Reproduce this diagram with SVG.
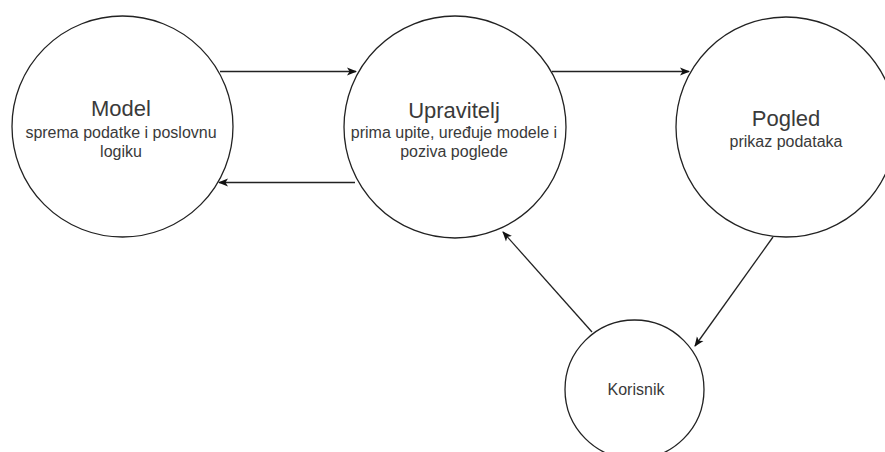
<svg xmlns="http://www.w3.org/2000/svg" width="885" height="452" viewBox="0 0 885 452">
<style>
.node{fill:#fff;stroke:#222;stroke-width:1.3}
.edge{fill:none;stroke:#222;stroke-width:1.3}
.t{font-family:"Liberation Sans",Arial,sans-serif;fill:#3a3a3a;text-anchor:middle}
.h{font-size:22px}
.s{font-size:16px}
</style>
<defs>
<marker id="arr" viewBox="0 0 10 10" refX="9" refY="5" markerWidth="10" markerHeight="10" markerUnits="userSpaceOnUse" orient="auto">
<path d="M0,1 L10,5 L0,9 L2.5,5 Z" fill="#111"/>
</marker>
</defs>
<rect width="885" height="452" fill="#fff"/>
<g id="connectors">
<line class="edge" x1="220" y1="71.5" x2="356" y2="71.5" marker-end="url(#arr)"/>
<line class="edge" x1="552" y1="71.5" x2="689" y2="71.5" marker-end="url(#arr)"/>
<line class="edge" x1="355" y1="182.5" x2="219" y2="182.5" marker-end="url(#arr)"/>
<line class="edge" x1="592" y1="332" x2="503" y2="232" marker-end="url(#arr)"/>
<line class="edge" x1="773" y1="237" x2="695" y2="346" marker-end="url(#arr)"/>
</g>
<g id="model">
<circle class="node" cx="122.5" cy="126.5" r="110.5"/>
<text class="t h" x="121" y="116">Model</text>
<text class="t s" x="121" y="138">sprema podatke i poslovnu</text>
<text class="t s" x="121" y="157">logiku</text>
</g>
<g id="upravitelj">
<circle class="node" cx="455" cy="127" r="111"/>
<text class="t h" x="454" y="118">Upravitelj</text>
<text class="t s" x="454" y="138">prima upite, uređuje modele i</text>
<text class="t s" x="454" y="157">poziva poglede</text>
</g>
<g id="pogled">
<circle class="node" cx="786" cy="127" r="110"/>
<text class="t h" x="786" y="126">Pogled</text>
<text class="t s" x="786" y="147">prikaz podataka</text>
</g>
<g id="korisnik">
<circle class="node" cx="634.5" cy="389.5" r="69.5"/>
<text class="t s" x="636" y="395">Korisnik</text>
</g>
</svg>
